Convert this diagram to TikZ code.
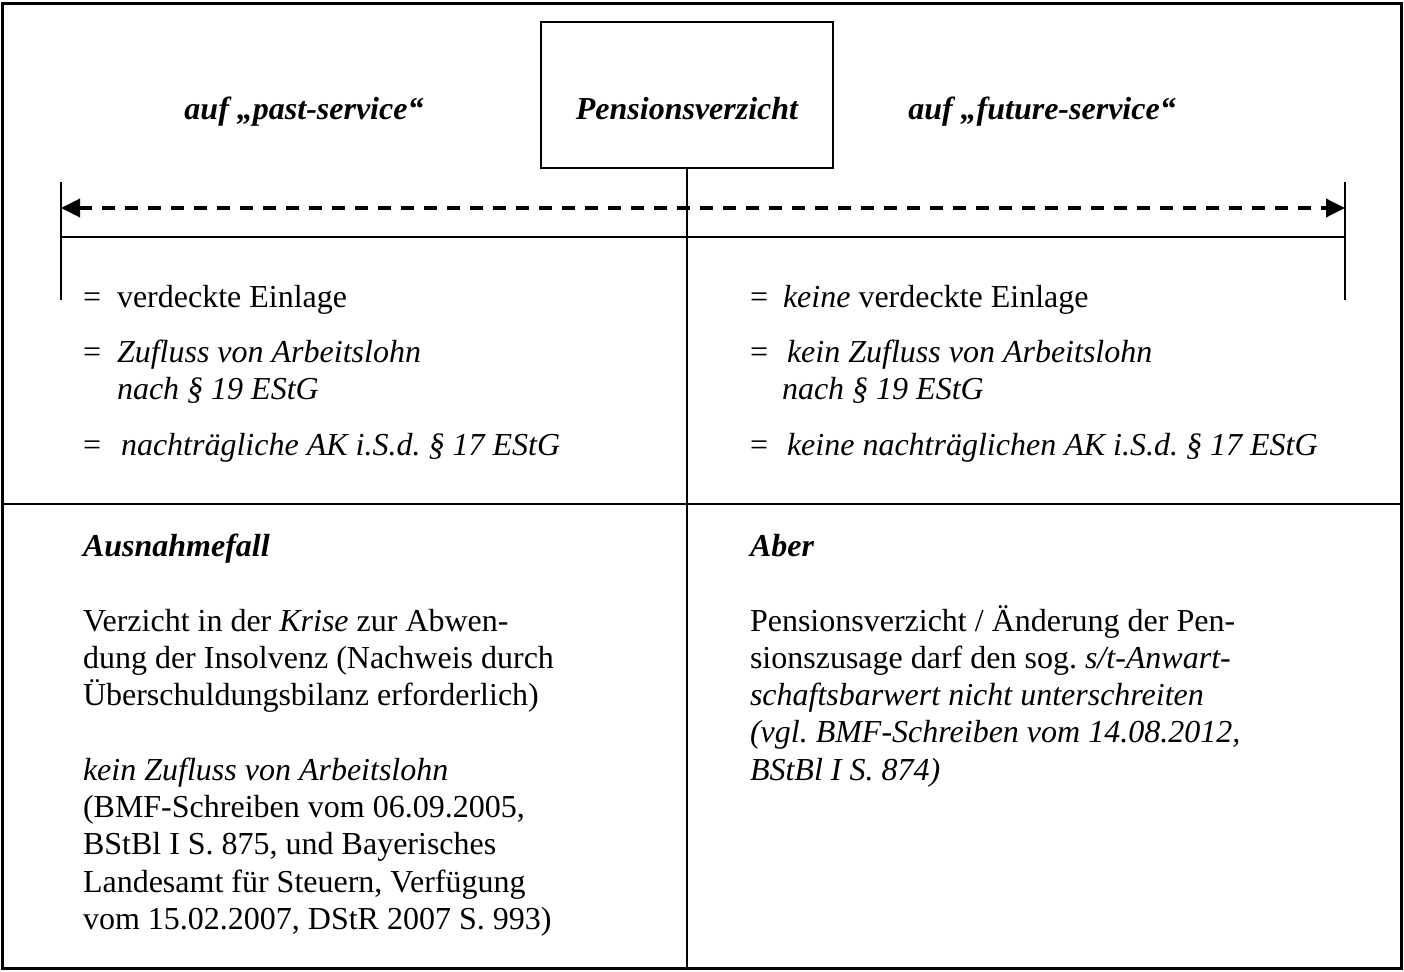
\documentclass[tikz,border=0pt]{standalone}
\usepackage{fontspec}
\setmainfont{Liberation Serif}
\usetikzlibrary{arrows.meta}
\frenchspacing
\begin{document}
\begin{tikzpicture}[x=1pt,y=-1pt,
  every node/.style={inner sep=0pt, outer sep=0pt, font=\fontsize{32}{37.3}\selectfont},
  txt/.style={anchor=base west},
  ttl/.style={anchor=base, font=\fontsize{32}{37.3}\selectfont\bfseries\itshape},
  frame/.style={line width=3pt},
  rule/.style={line width=2pt},
  tick/.style={line width=2.5pt},
  pbox/.style={draw, line width=2.5pt, minimum width=292pt, minimum height=146pt},
  darrow/.style={line width=3.5pt, dash pattern=on 13pt off 10pt,
     {Triangle[length=19pt,width=18pt]}-{Triangle[length=19pt,width=18pt]}}
]
\useasboundingbox (0,0) rectangle (1404,971);
\newcommand{\rows}[1]{\begin{tabular}[t]{@{}l@{}}#1\end{tabular}}

% outer frame and dividers
\draw[frame] (2,4) rectangle (1401,968);
\coordinate (ml) at (2,504);
\coordinate (mr) at (1401,504);
\draw[rule] (ml) -- (mr);

% central box
\node[pbox] (box) at (687,95) {};
\node[ttl] (pv) at (687,120) {Pensionsverzicht};
\coordinate (bot) at (687,968);
\draw[rule] (box.south) -- (bot);

% titles
\node[ttl] (past) at (304,120) {auf „past-service“};
\node[ttl] (fut) at (1042,120) {auf „future-service“};

% ticks, rule and dashed arrow
\coordinate (tlt) at (61,182);
\coordinate (tlb) at (61,300);
\coordinate (trt) at (1345,182);
\coordinate (trb) at (1345,300);
\coordinate (al) at (61,208);
\coordinate (ar) at (1345,208);
\coordinate (hl) at (61,237);
\coordinate (hr) at (1345,237);
\draw[tick] (tlt) -- (tlb);
\draw[tick] (trt) -- (trb);
\draw[rule] (hl) -- (hr);
\draw[darrow] (al) -- (ar);

% left list
\node[txt] (le1) at (83,307) {=};
\node[txt] (lt1) at (117,307) {verdeckte Einlage};
\node[txt] (le2) at (83,362) {=};
\node[txt] (lt2) at (117,362) {\rows{\textit{Zufluss von Arbeitslohn}\\ \textit{nach § 19 EStG}}};
\node[txt] (le3) at (83,455) {=};
\node[txt] (lt3) at (121,455) {\textit{nachträgliche AK i.S.d. § 17 EStG}};

% right list
\node[txt] (re1) at (750,307) {=};
\node[txt] (rt1) at (783,307) {\textit{keine} verdeckte Einlage};
\node[txt] (re2) at (750,362) {=};
\node[txt] (rt2) at (787,362) {\textit{kein Zufluss von Arbeitslohn}};
\node[txt] (rt2b) at (782,399) {\textit{nach § 19 EStG}};
\node[txt] (re3) at (750,455) {=};
\node[txt] (rt3) at (787,455) {\textit{keine nachträglichen AK i.S.d. § 17 EStG}};

% bottom left
\node[txt, font=\fontsize{32}{37.3}\selectfont\bfseries\itshape] (ausn) at (83,556) {Ausnahmefall};
\node[txt] (lp) at (83,631) {\rows{Verzicht in der \textit{Krise} zur Abwen-\\
dung der Insolvenz (Nachweis durch\\
Überschuldungsbilanz erforderlich)\\
\\
\textit{kein Zufluss von Arbeitslohn}\\
(BMF-Schreiben vom 06.09.2005,\\
BStBl I S. 875, und Bayerisches\\
Landesamt für Steuern, Verfügung\\
vom 15.02.2007, DStR 2007 S. 993)}};

% bottom right
\node[txt, font=\fontsize{32}{37.3}\selectfont\bfseries\itshape] (aber) at (750,556) {Aber};
\node[txt] (rp) at (750,631) {\rows{Pensionsverzicht / Änderung der Pen-\\
sionszusage darf den sog. \textit{s/t-Anwart-}\\
\textit{schaftsbarwert nicht unterschreiten}\\
\textit{(vgl. BMF-Schreiben vom 14.08.2012,}\\
\textit{BStBl I S. 874)}}};
\end{tikzpicture}
\end{document}
